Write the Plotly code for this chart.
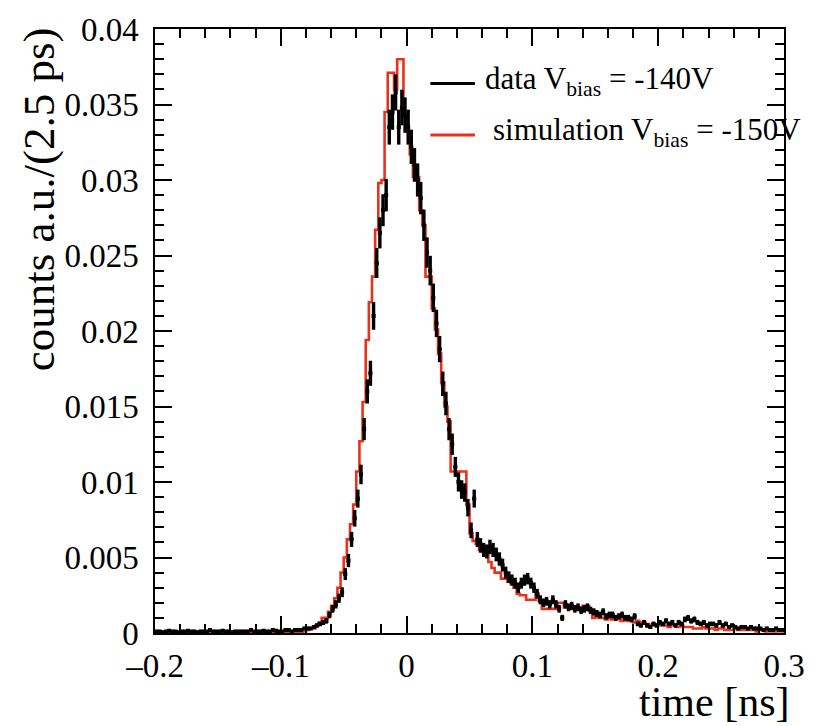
import numpy as np
import plotly.graph_objects as go

# ---- histogram definition: 200 bins of 2.5 ps from -0.2 to 0.3 ns ----
x_min, x_max, n_bins = -0.2, 0.3, 200

data_counts = [
    0.0001, 0.0001, 0.00005, 0.0001, 0.00015, 0.0001, 0.0001, 0.00005, 0.0001, 0.0001,
    0.00015, 0.0001, 0.0001, 0.00005, 0.0001, 0.0001, 0.0001, 0.0002, 0.0001, 0.0001,
    0.0001, 0.00015, 0.0001, 0.0001, 0.00005, 0.0001, 0.0001, 0.0001, 0.0001, 0.0001,
    0.0002, 0.0001, 0.0001, 0.0001, 0.00015, 0.0001, 0.0001, 0.0002, 0.00015, 0.0001,
    0.0001, 0.0002, 0.0002, 0.0001, 0.0002, 0.0002, 0.0002, 0.0003, 0.0003, 0.0003,
    0.0004, 0.0005, 0.0006, 0.0007, 0.0008, 0.0012, 0.0016, 0.0019, 0.0023, 0.0027,
    0.0039, 0.0048, 0.0062, 0.0076, 0.0089, 0.0105, 0.0135, 0.0160, 0.0172, 0.0210,
    0.0245, 0.0265, 0.0280, 0.0290, 0.0335, 0.0345, 0.0358, 0.0335, 0.0348, 0.0343,
    0.0335, 0.0322, 0.0310, 0.0300, 0.0288, 0.0270, 0.0252, 0.0240, 0.0222, 0.0205,
    0.0188, 0.0165, 0.0152, 0.0135, 0.0125, 0.0110, 0.0100, 0.0095, 0.0093, 0.0083,
    0.0068, 0.0089, 0.0062, 0.0058, 0.0055, 0.0054, 0.0057, 0.0055, 0.0052, 0.0049,
    0.0045, 0.0040, 0.0037, 0.0035, 0.0033, 0.0030, 0.0033, 0.0035, 0.0036, 0.0033,
    0.0030, 0.0026, 0.0022, 0.0020, 0.0021, 0.0019, 0.0022, 0.0019, 0.0016, 0.0010,
    0.0019, 0.0017, 0.0018, 0.0016, 0.0017, 0.0015, 0.0016, 0.0017, 0.0015, 0.0014,
    0.0013, 0.0012, 0.0014, 0.0011, 0.0012, 0.0012, 0.0010, 0.0011, 0.0012, 0.0010,
    0.0010, 0.0009, 0.0011, 0.0006, 0.0005, 0.0007, 0.0005, 0.0004, 0.0006, 0.0005,
    0.0007, 0.0006, 0.0008, 0.0006, 0.0007, 0.0005, 0.0007, 0.0006, 0.0009, 0.0010,
    0.0008, 0.0009, 0.0007, 0.0006, 0.0007, 0.0005, 0.0006, 0.0006, 0.0005, 0.0007,
    0.0005, 0.0006, 0.0004, 0.0005, 0.0004, 0.0003, 0.0004, 0.0004, 0.0003, 0.0004,
    0.0003, 0.0003, 0.0003, 0.0002, 0.0003, 0.0002, 0.0002, 0.0003, 0.0002, 0.0002,
]

sim_counts = [
    0, 0, 0, 0, 0, 0, 0, 0, 0, 0,
    0, 0, 0, 0, 0, 0, 0, 0, 0, 0,
    0, 0, 0, 0, 0, 0, 0, 0, 0, 0,
    0, 0, 0, 0, 0, 0, 0, 0, 0, 0,
    0, 0, 0, 0, 0, 0, 0, 0.0001, 0.0002, 0.0003,
    0.0003, 0.0005, 0.0007, 0.0010, 0.0010, 0.0014, 0.0018, 0.0023, 0.0030, 0.0040,
    0.0050, 0.0062, 0.0072, 0.0085, 0.0107, 0.0127, 0.0153, 0.0194, 0.0219, 0.0236,
    0.0267, 0.0298, 0.0300, 0.0345, 0.0371, 0.0371, 0.0360, 0.0380, 0.0380, 0.0343,
    0.0332, 0.0317, 0.0302, 0.0302, 0.0280, 0.0270, 0.0236, 0.0236, 0.0215, 0.0201,
    0.0185, 0.0166, 0.0150, 0.0140, 0.0107, 0.0107, 0.0107, 0.0107, 0.0107, 0.0085,
    0.0066, 0.0061, 0.0059, 0.0055, 0.0054, 0.0053, 0.0047, 0.0043, 0.0040, 0.0040,
    0.0036, 0.0036, 0.0034, 0.0033, 0.0030, 0.0026, 0.0025, 0.0025, 0.0022, 0.0022,
    0.0022, 0.0026, 0.0021, 0.0016, 0.0016, 0.0016, 0.0016, 0.0016, 0.0020, 0.0020,
    0.0017, 0.0017, 0.0016, 0.0017, 0.0016, 0.0017, 0.0018, 0.0018, 0.0015, 0.0010,
    0.0011, 0.0010, 0.0010, 0.0009, 0.0010, 0.0009, 0.0009, 0.0010, 0.0008, 0.0009,
    0.0008, 0.0008, 0.0007, 0.0008, 0.0007, 0.0007, 0.0006, 0.0005, 0.0006, 0.0005,
    0.0005, 0.0006, 0.0005, 0.0004, 0.0005, 0.0005, 0.0004, 0.0005, 0.0004, 0.0004,
    0.0004, 0.0003, 0.0003, 0.0003, 0.0004, 0.0003, 0.0003, 0.0003, 0.0002, 0.0003,
    0.0003, 0.0002, 0.0002, 0.0002, 0.0003, 0.0002, 0.0002, 0.0002, 0.0002, 0.0002,
    0.0002, 0.0001, 0.0002, 0.0002, 0.0001, 0.0002, 0.0001, 0.0001, 0.0002, 0.0001,
]

x_ticks = [-0.2, -0.1, 0, 0.1, 0.2, 0.3]
x_tick_text = ["\u20130.2", "\u20130.1", "0", "0.1", "0.2", "0.3"]
y_ticks = [0, 0.005, 0.01, 0.015, 0.02, 0.025, 0.03, 0.035, 0.04]
y_tick_text = ["0", "0.005", "0.01", "0.015", "0.02", "0.025", "0.03", "0.035", "0.04"]

legend_labels = ["data V<sub>bias</sub> = -140V", "simulation V<sub>bias</sub> = -150V"]
x_title = "time [ns]"
y_title = "counts a.u./(2.5 ps)"

# ---- derived geometry ----
edges = np.linspace(x_min, x_max, n_bins + 1)
centers = 0.5 * (edges[:-1] + edges[1:])
half_w = 0.5 * (edges[1] - edges[0])
data_arr = np.array(data_counts)
data_err = np.sqrt(data_arr * 4e-5)  # statistical uncertainty

FONT = "Liberation Serif"
RED = "#e8321c"

fig = go.Figure()

# simulation as a step histogram
fig.add_trace(go.Scatter(
    x=edges, y=list(sim_counts) + [sim_counts[-1]],
    mode="lines", line=dict(shape="hv", color=RED, width=2.6),
    showlegend=False, hoverinfo="skip"))

# data with error bars
fig.add_trace(go.Scatter(
    x=centers, y=data_arr, mode="markers",
    marker=dict(color="black", size=4, symbol="square"),
    error_x=dict(type="constant", value=half_w, color="black", thickness=3, width=0),
    error_y=dict(type="data", array=data_err, color="black", thickness=3.4, width=0),
    showlegend=False, hoverinfo="skip"))

W, H = 817, 726
ml, mr, mt, mb = 155, 27, 24, 93
pw, ph = W - ml - mr, H - mt - mb

def px_x(p):
    return (p - ml) / pw

def px_y(p):
    return (H - mb - p) / ph

axis_common = dict(
    ticks="inside", tickcolor="black", tickwidth=1.5,
    showline=True, linecolor="black", linewidth=1.5, mirror="ticks",
    showgrid=False, zeroline=False,
    tickfont=dict(family=FONT, size=33, color="black"),
)

fig.update_xaxes(
    range=[x_min, x_max], tickvals=x_ticks, ticktext=x_tick_text, ticklen=17,
    minor=dict(ticks="inside", ticklen=9, dtick=0.02, tick0=-0.2,
               tickcolor="black", tickwidth=1.5, showgrid=False),
    ticklabelstandoff=3,
    **axis_common)
fig.update_yaxes(
    range=[0, 0.04], tickvals=y_ticks, ticktext=y_tick_text, ticklen=17,
    minor=dict(ticks="inside", ticklen=9, dtick=0.001, tick0=0,
               tickcolor="black", tickwidth=1.5, showgrid=False),
    ticklabelstandoff=8,
    **axis_common)

annotations = [
    dict(text=x_title, xref="paper", yref="paper", x=px_x(796), y=px_y(727),
         xanchor="right", yanchor="bottom", showarrow=False, borderpad=0,
         font=dict(family=FONT, size=42, color="black")),
    dict(text=y_title, xref="paper", yref="paper", x=px_x(38), y=px_y(20),
         xanchor="center", yanchor="top", textangle=-90, showarrow=False,
         font=dict(family=FONT, size=45, color="black")),
    dict(text=legend_labels[0], xref="paper", yref="paper", x=px_x(486), y=px_y(76),
         xanchor="left", yanchor="middle", showarrow=False,
         font=dict(family=FONT, size=31, color="black")),
    dict(text=legend_labels[1], xref="paper", yref="paper", x=px_x(494), y=px_y(128),
         xanchor="left", yanchor="middle", showarrow=False,
         font=dict(family=FONT, size=31, color="black")),
]

shapes = [
    dict(type="line", xref="paper", yref="paper", x0=px_x(433), x1=px_x(478),
         y0=px_y(79), y1=px_y(79), line=dict(color="black", width=3)),
    dict(type="line", xref="paper", yref="paper", x0=px_x(433), x1=px_x(478),
         y0=px_y(131), y1=px_y(131), line=dict(color=RED, width=3)),
]

fig.update_layout(
    width=W, height=H,
    margin=dict(l=ml, r=mr, t=mt, b=mb, pad=0),
    paper_bgcolor="white", plot_bgcolor="white",
    annotations=annotations, shapes=shapes,
    showlegend=False,
)

fig.write_html("out.html")
